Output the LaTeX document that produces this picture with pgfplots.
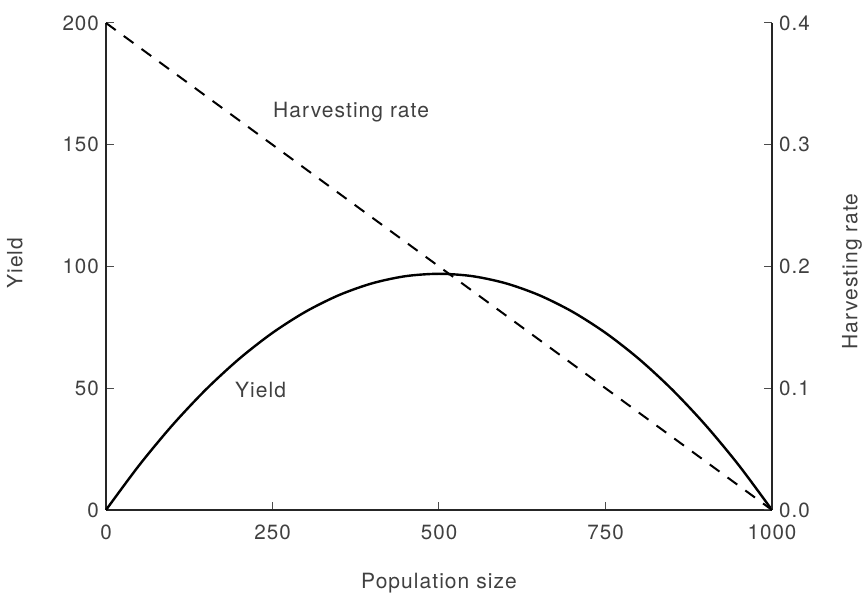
\documentclass[border=0pt]{standalone}
\usepackage{fontspec}
\setmainfont{TeX Gyre Heros}
\newfontfamily\labfont{TeX Gyre Heros}[LetterSpace=5]
\usepackage{pgfplots}
\pgfplotsset{compat=1.18}
\begin{document}
\begin{tikzpicture}
\path[use as bounding box] (-53pt,-44pt) rectangle (379pt,255pt);
\begin{axis}[
  at={(0,0)}, anchor=south west,
  scale only axis, width=333pt, height=243.5pt,
  xmin=0, xmax=1000, ymin=0, ymax=200,
  axis x line=bottom, axis y line=left,
  axis line style={-, black!85, line width=0.7pt},
  xtick={0,250,500,750,1000},
  ytick={0,50,100,150,200},
  tick align=inside,
  major tick length=4pt,
  tick style={black!70, line width=0.5pt},
  /pgf/number format/assume math mode=true,
  /pgf/number format/1000 sep={},
  ticklabel style={font=\labfont\fontsize{10.3}{12}\selectfont, text=black!75},
  xticklabel style={yshift=-4pt},
  xlabel={Population size},
  ylabel={Yield},
  label style={font=\labfont\fontsize{10.5}{12}\selectfont, text=black!75},
  xlabel style={at={(axis description cs:0.5,-0.15)}, anchor=center},
  ylabel style={at={(axis description cs:-0.137,0.507)}, anchor=center, rotate=0},
  clip=false,
]
\addplot[black, line width=1.2pt, smooth] coordinates {
(0,0) (50,18.43) (100,34.92) (150,49.47) (200,62.08) (250,72.75)
(300,81.48) (350,88.27) (400,93.12) (450,96.03) (500,97)
(550,96.03) (600,93.12) (650,88.27) (700,81.48) (750,72.75)
(800,62.08) (850,49.47) (900,34.92) (950,18.43) (1000,0)
};
\node[font=\labfont\fontsize{10.5}{12}\selectfont, text=black!75] at (axis cs:368,163.4) {Harvesting rate};
\node[font=\labfont\fontsize{10.5}{12}\selectfont, text=black!75] at (axis cs:232,49.3) {Yield};
\end{axis}
\begin{axis}[
  at={(0,0)}, anchor=south west,
  scale only axis, width=333pt, height=243.5pt,
  xmin=0, xmax=1000, ymin=0, ymax=0.4,
  axis x line=none, axis y line=right,
  axis line style={-, black!85, line width=0.7pt},
  ytick={0,0.1,0.2,0.3,0.4},
  tick align=inside,
  major tick length=4pt,
  tick style={black!70, line width=0.5pt},
  /pgf/number format/assume math mode=true,
  /pgf/number format/fixed, /pgf/number format/fixed zerofill,
  /pgf/number format/precision=1,
  ticklabel style={font=\labfont\fontsize{10.3}{12}\selectfont, text=black!75},
  ylabel={Harvesting rate},
  label style={font=\labfont\fontsize{10.5}{12}\selectfont, text=black!75},
  ylabel style={at={(axis description cs:1.12,0.49)}, anchor=center, rotate=0},
  clip=false,
]
\addplot[black, line width=1pt, dash pattern=on 6pt off 5pt] coordinates {(0,0.4) (1000,0)};
\end{axis}
\end{tikzpicture}
\end{document}
